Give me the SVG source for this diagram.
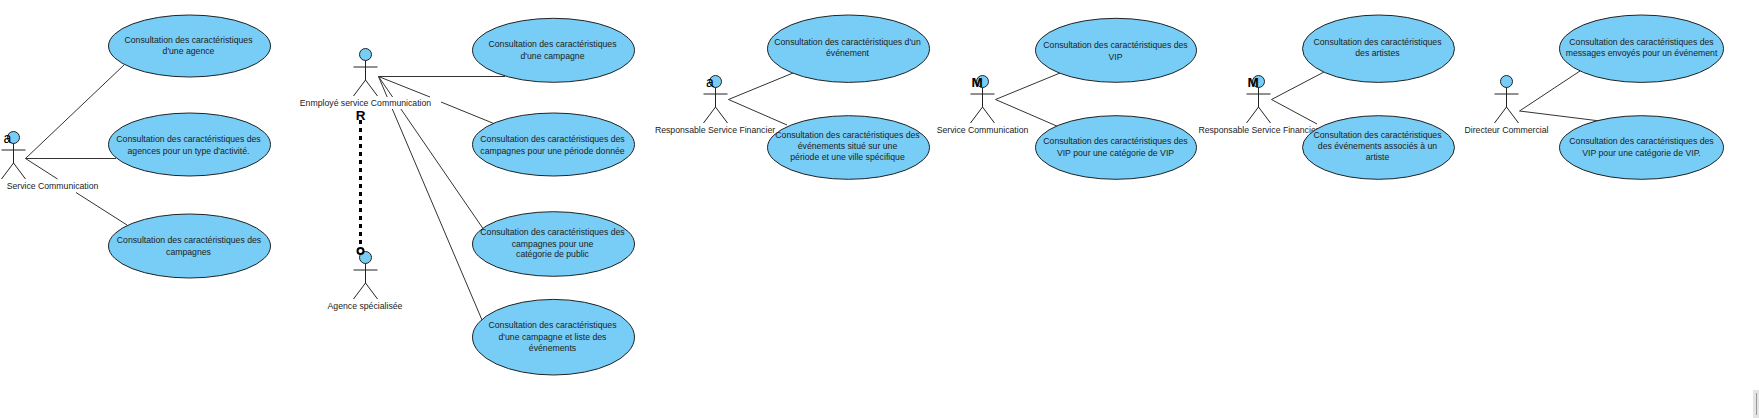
<svg xmlns="http://www.w3.org/2000/svg" width="1759" height="418" viewBox="0 0 1759 418">
<style>
text{font-family:"Liberation Sans",Arial,sans-serif;font-size:8.7px;fill:#222;text-anchor:middle}
.uc ellipse{fill:#77cdf5;stroke:#222;stroke-width:1}
.ac circle{fill:#77cdf5;stroke:#222;stroke-width:1}
.ac path{fill:none;stroke:#222;stroke-width:1}
#connectors path{fill:none;stroke:#333;stroke-width:1}
.g{font-size:14px;fill:#000}
.b{font-weight:bold;font-size:13.500px}
</style>
<rect width="1759" height="418" fill="#fff"/>
<g id="connectors">
<path d="M25.500 158.500L124 65M25.500 158.500H116M25.500 158.500L57.500 179M76 192.500L127 225"/>
<path d="M378.500 76.500H505M378.500 76.500L430 97M441 102L495 124M378.500 76.500L392.600 97M400.900 109L484 230M378.500 76.500L387.200 97M392.300 109L482 320"/>
<path d="M728.500 99.500L793 73M728.500 99.500L787 125"/>
<path d="M995.500 99.500L1060 73M995.500 99.500L1059 127"/>
<path d="M1271.500 99.500L1324 72M1271.500 99.500L1317 124"/>
<path d="M1519.500 111L1580 71M1519.500 111L1600 121"/>
<path d="M360.500 120V246" style="stroke:#000;stroke-width:3;stroke-dasharray:4 4"/>
</g>
<g id="a1" class="ac"><circle cx="13.500" cy="137.500" r="6"/><path d="M13.500 143.500V163M1.500 150H25.500M13.500 163L1.500 179M13.500 163L25.500 179"/><text x="52.500" y="189">Service Communication</text><text class="g" x="7.500" y="143">a</text></g>
<g id="a2" class="ac"><circle cx="365.500" cy="54.500" r="6"/><path d="M365.500 60.500V80M353.500 67H377.500M365.500 80L353.500 96M365.500 80L377.500 96"/><text x="365.500" y="106">Enmployé service Communication</text></g>
<g id="a3" class="ac"><circle cx="365.500" cy="257.500" r="6"/><path d="M365.500 263.500V283M353.500 270H377.500M365.500 283L353.500 299M365.500 283L377.500 299"/><text x="365" y="309">Agence spécialisée</text></g>
<g id="a4" class="ac"><circle cx="715.500" cy="81.500" r="6"/><path d="M715.500 87.500V107M703.500 94H727.500M715.500 107L703.500 123M715.500 107L727.500 123"/><text x="715" y="133">Responsable Service Financier</text><text class="g" x="710" y="87">a</text></g>
<g id="a5" class="ac"><circle cx="982.500" cy="81.500" r="6"/><path d="M982.500 87.500V107M970.500 94H994.500M982.500 107L970.500 123M982.500 107L994.500 123"/><text x="982.500" y="133">Service Communication</text><text class="g b" x="977" y="87">M</text></g>
<g id="a6" class="ac"><circle cx="1258.500" cy="81.500" r="6"/><path d="M1258.500 87.500V107M1246.500 94H1270.500M1258.500 107L1246.500 123M1258.500 107L1270.500 123"/><text x="1258.500" y="133">Responsable Service Financier</text><text class="g b" x="1253" y="87">M</text></g>
<g id="a7" class="ac"><circle cx="1506.500" cy="81.500" r="6"/><path d="M1506.500 87.500V107M1494.500 94H1518.500M1506.500 107L1494.500 123M1506.500 107L1518.500 123"/><text x="1506.500" y="133">Directeur Commercial</text></g>
<g id="r1" class="ac"><text class="g b" x="360.500" y="119.500">R</text><circle cx="360.500" cy="251" r="3" style="fill:#fff;stroke:#000;stroke-width:2"/></g>
<g id="u1" class="uc"><ellipse cx="189.500" cy="46" rx="81" ry="31"/><text x="188.500" y="43">Consultation des caractéristiques</text><text x="188.500" y="54">d'une agence</text></g>
<g id="u2" class="uc"><ellipse cx="189.500" cy="144.500" rx="81" ry="31.500"/><text x="188.500" y="142">Consultation des  caractéristiques des</text><text x="188.500" y="154">agences pour un type d'activité.</text></g>
<g id="u3" class="uc"><ellipse cx="189.500" cy="246" rx="81" ry="32"/><text x="189" y="243">Consultation des caractéristiques des</text><text x="188.500" y="255">campagnes</text></g>
<g id="u4" class="uc"><ellipse cx="553.500" cy="50.300" rx="81" ry="32"/><text x="552.500" y="47">Consultation des caractéristiques</text><text x="552.500" y="59">d'une campagne</text></g>
<g id="u5" class="uc"><ellipse cx="553.500" cy="144.500" rx="81" ry="31.500"/><text x="552.500" y="142">Consultation des caractéristiques des</text><text x="552.500" y="154">campagnes pour une période donnée</text></g>
<g id="u6" class="uc"><ellipse cx="553.500" cy="244" rx="81" ry="32.300"/><text x="552.500" y="235">Consultation des caractéristiques des</text><text x="552.500" y="247">campagnes  pour une</text><text x="552.500" y="257">catégorie de public</text></g>
<g id="u7" class="uc"><ellipse cx="553.500" cy="337.200" rx="81" ry="37.800"/><text x="552.500" y="328">Consultation des caractéristiques</text><text x="552.500" y="340">d'une campagne et liste  des</text><text x="552.500" y="351">événements</text></g>
<g id="u8" class="uc"><ellipse cx="848.500" cy="48.700" rx="81" ry="33.700"/><text x="847.500" y="45">Consultation des caractéristiques d'un</text><text x="847.500" y="56">événement</text></g>
<g id="u9" class="uc"><ellipse cx="848.500" cy="147.500" rx="81" ry="31.800"/><text x="847.500" y="138">Consultation des caractéristiques des</text><text x="847.500" y="149">événements situé sur une</text><text x="847.500" y="160">période et une ville spécifique</text></g>
<g id="u10" class="uc"><ellipse cx="1116" cy="50.300" rx="80.500" ry="32"/><text x="1115.500" y="48">Consultation des caractéristiques des</text><text x="1115.500" y="60">VIP</text></g>
<g id="u11" class="uc"><ellipse cx="1116" cy="147.500" rx="80.500" ry="31.800"/><text x="1115.500" y="144">Consultation des caractéristiques des</text><text x="1115.500" y="156">VIP pour une catégorie de VIP</text></g>
<g id="u12" class="uc"><ellipse cx="1378.500" cy="48.700" rx="76" ry="33.700"/><text x="1377.500" y="45">Consultation des caractéristiques</text><text x="1377.500" y="56">des artistes</text></g>
<g id="u13" class="uc"><ellipse cx="1378.500" cy="147.500" rx="76" ry="31.800"/><text x="1377.500" y="138">Consultation des caractéristiques</text><text x="1377.500" y="149">des événements associés à un</text><text x="1377.500" y="160">artiste</text></g>
<g id="u14" class="uc"><ellipse cx="1641.500" cy="48.700" rx="82" ry="33.700"/><text x="1641.500" y="45">Consultation des caractéristiques des</text><text x="1641.500" y="56">messages envoyés pour un événement</text></g>
<g id="u15" class="uc"><ellipse cx="1641.500" cy="147.500" rx="82" ry="31.800"/><text x="1641.500" y="144">Consultation des caractéristiques des</text><text x="1641.500" y="156">VIP pour une catégorie de VIP.</text></g>
<g id="scroll"><rect x="1753" y="390" width="6" height="28" fill="#e4e4e4"/><rect x="1756" y="393" width="1" height="22" fill="#999"/></g>
</svg>
